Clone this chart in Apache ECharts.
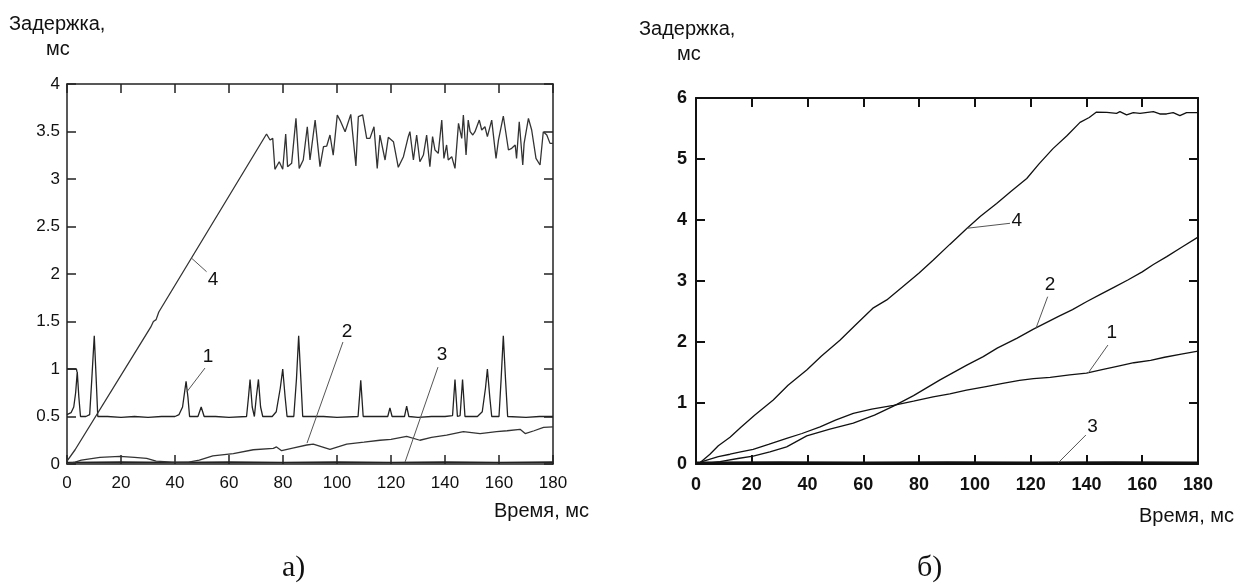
<!DOCTYPE html>
<html>
<head>
<meta charset="utf-8">
<script src="https://cdn.jsdelivr.net/npm/echarts@6/dist/echarts.min.js"></script>
<style>
  html, body { margin: 0; padding: 0; background: #fff; }
  #chart { width: 1245px; height: 583px; }
</style>
</head>
<body>
<div id="chart"></div>
<script>
// ---- данные ----
// а) левый график
const a1 = [[0,0.52],[1.5,0.54],[2.5,0.6],[3.2,0.75],[3.8,0.97],[4.4,0.7],[5,0.5],[7,0.5],[8.4,0.52],[9.2,0.9],[10.1,1.35],[10.8,0.9],[11.4,0.5],[15,0.5],[20,0.49],[25,0.5],[30,0.49],[35,0.5],[40,0.5],[41.5,0.52],[42.8,0.6],[44.1,0.87],[44.8,0.7],[45.4,0.5],[48.5,0.5],[49.7,0.6],[50.8,0.5],[55,0.5],[60,0.49],[66.5,0.5],[67.2,0.7],[67.8,0.89],[68.6,0.6],[69.4,0.5],[70.1,0.7],[70.9,0.89],[71.7,0.6],[72.5,0.5],[76,0.5],[77.5,0.55],[79,0.8],[79.9,1.0],[80.8,0.7],[81.5,0.5],[84,0.5],[85,0.9],[85.8,1.35],[86.6,0.9],[87.3,0.5],[95,0.5],[100,0.49],[107.8,0.5],[108.8,0.88],[109.7,0.5],[115,0.5],[118.8,0.5],[119.6,0.59],[120.4,0.5],[125,0.5],[125.8,0.61],[126.6,0.5],[130,0.49],[135,0.5],[140,0.5],[142.8,0.51],[143.7,0.89],[144.6,0.5],[145.6,0.51],[146.5,0.89],[147.4,0.5],[152,0.5],[153.8,0.55],[155,0.8],[155.7,1.0],[156.6,0.7],[157.3,0.5],[160,0.5],[160.8,0.9],[161.6,1.35],[162.4,0.9],[163.2,0.5],[170,0.49],[175,0.5],[180,0.5]]
const a1start = [[0,1.0],[3.5,1.0],[3.7,0.97]]
const a2 = [[0,0.0],[3,0.02],[5.3,0.04],[12.2,0.07],[19.6,0.08],[25,0.07],[29.5,0.06],[33,0.03],[39,0.02],[45,0.02],[49,0.04],[54,0.085],[61.6,0.11],[69,0.15],[76.4,0.165],[77.6,0.18],[79.5,0.14],[84,0.17],[88.8,0.2],[91.2,0.21],[97.4,0.155],[103.6,0.21],[110,0.23],[115.9,0.25],[120,0.26],[125.8,0.29],[130.7,0.25],[135,0.28],[140.6,0.305],[146.8,0.34],[153,0.32],[159.1,0.34],[163,0.35],[167.8,0.365],[169.7,0.32],[173,0.35],[176.5,0.385],[180,0.39]]
const a3 = [[0,0.015],[20,0.02],[40,0.015],[60,0.02],[80,0.015],[100,0.02],[120,0.015],[140,0.02],[160,0.015],[180,0.02]]
const a4 = [[0,0.03],[3,0.15],[31,1.44],[32,1.5],[33,1.52],[34,1.6],[73.9,3.474],[75.2,3.41],[76.2,3.428],[77.0,3.102],[78.6,3.182],[79.9,3.102],[81.0,3.474],[81.7,3.13],[83.2,3.165],[83.8,3.172],[84.8,3.638],[86.0,3.112],[87.5,3.2],[89.0,3.55],[90.0,3.2],[90.6,3.217],[91.9,3.62],[93.7,3.13],[95.0,3.34],[96.2,3.347],[97.4,3.463],[98.0,3.474],[98.6,3.252],[100.1,3.674],[101.1,3.62],[103.0,3.498],[103.6,3.516],[105.1,3.68],[107.0,3.137],[107.9,3.656],[109.5,3.674],[111.0,3.428],[112.2,3.428],[113.7,3.55],[114.9,3.112],[115.9,3.463],[117.8,3.2],[119.0,3.439],[120.9,3.393],[122.7,3.123],[124.6,3.235],[125.2,3.235],[126.4,3.446],[127.0,3.498],[128.3,3.2],[129.5,3.463],[130.7,3.182],[132.0,3.252],[133.2,3.463],[134.4,3.13],[135.4,3.446],[136.3,3.305],[137.5,3.27],[138.8,3.62],[139.6,3.217],[140.6,3.358],[141.2,3.2],[142.5,3.235],[143.7,3.112],[145.0,3.586],[146.2,3.428],[146.8,3.674],[147.8,3.252],[148.6,3.62],[149.3,3.498],[150.3,3.463],[151.1,3.498],[152.7,3.62],[153.6,3.516],[154.8,3.55],[155.7,3.446],[157.3,3.62],[158.9,3.217],[159.8,3.41],[161.6,3.663],[163.5,3.305],[164.7,3.323],[166.0,3.358],[166.5,3.217],[167.5,3.603],[168.8,3.147],[169.3,3.375],[170.9,3.638],[172.1,3.516],[173.7,3.217],[175.2,3.147],[175.8,3.147],[176.4,3.498],[177.7,3.463],[178.9,3.375],[180,3.375]]

// б) правый график
const b1 = [[0,0],[3,0.05],[8,0.12],[12.2,0.16],[16,0.2],[20.5,0.24],[26,0.32],[32.5,0.42],[38,0.5],[44.5,0.61],[50,0.72],[56.4,0.83],[63,0.9],[70.8,0.96],[78,1.03],[85,1.1],[91,1.15],[97,1.21],[104,1.27],[110,1.32],[116,1.37],[121,1.4],[127,1.42],[134,1.46],[140,1.49],[146,1.55],[151,1.6],[157,1.66],[163,1.7],[168,1.75],[174,1.8],[180,1.85]]
const b2 = [[0,0],[5,0.02],[8.6,0.04],[15,0.09],[20.5,0.13],[26.5,0.2],[32.5,0.28],[39.7,0.46],[44,0.52],[48,0.57],[56.4,0.67],[64,0.8],[70.8,0.95],[78,1.12],[87.5,1.38],[97.1,1.62],[103,1.76],[108,1.9],[115,2.06],[121,2.21],[130,2.42],[135,2.53],[140,2.66],[145,2.78],[150,2.9],[155,3.02],[160,3.15],[164,3.27],[168.8,3.4],[174,3.55],[180,3.72]]
const b3 = [[0,0.025],[30,0.03],[60,0.025],[90,0.03],[120,0.025],[150,0.03],[180,0.025]]
const b4 = [[0,0],[1.4,0.02],[5,0.16],[8,0.3],[12.2,0.44],[16,0.6],[21,0.8],[27.7,1.05],[33,1.29],[39.7,1.54],[45,1.77],[51.6,2.03],[57,2.27],[63.6,2.56],[68.4,2.69],[74,2.9],[80,3.13],[85,3.34],[91,3.6],[97.1,3.86],[102,4.06],[107.8,4.27],[113,4.47],[118.6,4.68],[123,4.92],[128,5.17],[133,5.38],[137.7,5.6],[141,5.68],[143.6,5.77],[147.3,5.765],[150.8,5.749],[152,5.776],[154.4,5.722],[156.8,5.76],[159.2,5.749],[164,5.776],[166.3,5.738],[168.7,5.738],[171.1,5.76],[173.5,5.71],[175.9,5.76],[180,5.76]]

// подписи кривых: [текст, x, y, от x, от y, к x, к y]
const labelsA = [['1',52.2,1.126,51.1,1.01,44.4,0.76],['2',103.7,1.39,102.2,1.284,88.9,0.22],['3',138.9,1.147,137.4,1.02,125.2,0.02],['4',54.1,1.937,51.7,2.024,46.2,2.165]]
const labelsB = [['4',115.0,3.98,112.6,3.946,97.1,3.864],['2',126.9,2.934,126.1,2.743,121.9,2.225],['1',149.1,2.148,147.7,1.95,140.6,1.49],['3',142.2,0.61,139.8,0.475,129.8,0.016]]

const xTicks = { min: 0, max: 180, interval: 20 }
const yTicksA = { min: 0, max: 4, interval: 0.5 }
const yTicksB = { min: 0, max: 6, interval: 1 }

const FONT = '"Liberation Sans", Arial, sans-serif'
const SERIF = '"Liberation Serif", "Times New Roman", serif'

function axis(pos, grid, range, opts) {
  return {
    type: 'value',
    gridIndex: grid,
    position: pos,
    min: range.min, max: range.max, interval: range.interval,
    axisLine: { show: true, onZero: false, lineStyle: { color: opts.color, width: opts.width } },
    axisTick: { show: true, inside: true, length: 9, lineStyle: { color: opts.color, width: opts.width } },
    splitLine: { show: false },
    axisLabel: {
      show: opts.labels, margin: opts.margin || 8, color: '#111', fontFamily: FONT,
      fontSize: opts.bold ? 18 : 17, fontWeight: opts.bold ? 'bold' : 'normal'
    }
  }
}

function line(data, xi, color, width) {
  return {
    type: 'line', data: data, xAxisIndex: xi, yAxisIndex: xi,
    symbol: 'none', silent: true, animation: false,
    lineStyle: { color: color, width: width }
  }
}

function annot(list, xi) {
  return {
    type: 'line', data: [], xAxisIndex: xi, yAxisIndex: xi, symbol: 'none', animation: false,
    markLine: {
      silent: true, symbol: 'none', animation: false, label: { show: false },
      lineStyle: { color: '#555', width: 1, type: 'solid' },
      data: list.map(l => [{ coord: [l[3], l[4]] }, { coord: [l[5], l[6]] }])
    },
    markPoint: {
      silent: true, animation: false, symbol: 'circle', symbolSize: 1,
      itemStyle: { color: 'rgba(0,0,0,0)' },
      label: { show: true, position: 'inside', color: '#111', fontFamily: FONT, fontSize: 19 },
      data: list.map(l => ({ coord: [l[1], l[2]], label: { formatter: l[0] } }))
    }
  }
}

const chart = echarts.init(document.getElementById('chart'))
const styA = { color: '#222', width: 1.5 }
const styB = { color: '#111', width: 2 }

chart.setOption({
  backgroundColor: '#fff',
  animation: false,
  grid: [
    { left: 67, top: 84, width: 486, height: 380 },
    { left: 696, top: 98, width: 502, height: 366 }
  ],
  xAxis: [
    axis('bottom', 0, xTicks, Object.assign({ labels: true, margin: 11 }, styA)),
    axis('top', 0, xTicks, Object.assign({ labels: false }, styA)),
    axis('bottom', 1, xTicks, Object.assign({ labels: true, bold: true, margin: 12 }, styB)),
    axis('top', 1, xTicks, Object.assign({ labels: false }, styB))
  ],
  yAxis: [
    axis('left', 0, yTicksA, Object.assign({ labels: true, margin: 7 }, styA)),
    axis('right', 0, yTicksA, Object.assign({ labels: false }, styA)),
    axis('left', 1, yTicksB, Object.assign({ labels: true, bold: true, margin: 9 }, styB)),
    axis('right', 1, yTicksB, Object.assign({ labels: false }, styB))
  ],
  series: [
    line(a3, 0, '#222', 1.6),
    line(a2, 0, '#333', 1.3),
    line(a1, 0, '#222', 1.3),
    line(a1start, 0, '#222', 1.3),
    line(a4, 0, '#333', 1.3),
    annot(labelsA, 0),
    line(b3, 2, '#111', 2),
    line(b1, 2, '#111', 1.3),
    line(b2, 2, '#111', 1.3),
    line(b4, 2, '#111', 1.3),
    annot(labelsB, 2)
  ],
  graphic: [
    { type: 'text', left: 9, top: 14, style: { text: 'Задержка,', font: '20px ' + FONT, fill: '#111' } },
    { type: 'text', left: 46, top: 39, style: { text: 'мс', font: '20px ' + FONT, fill: '#111' } },
    { type: 'text', left: 639, top: 19, style: { text: 'Задержка,', font: '20px ' + FONT, fill: '#111' } },
    { type: 'text', left: 677, top: 44, style: { text: 'мс', font: '20px ' + FONT, fill: '#111' } },
    { type: 'text', left: 494, top: 501, style: { text: 'Время, мс', font: '20px ' + FONT, fill: '#111' } },
    { type: 'text', left: 1139, top: 506, style: { text: 'Время, мс', font: '20px ' + FONT, fill: '#111' } },
    { type: 'text', left: 282, top: 553, style: { text: 'а)', font: '30px ' + SERIF, fill: '#111' } },
    { type: 'text', left: 917, top: 553, style: { text: 'б)', font: '30px ' + SERIF, fill: '#111' } }
  ]
})
</script>
</body>
</html>
